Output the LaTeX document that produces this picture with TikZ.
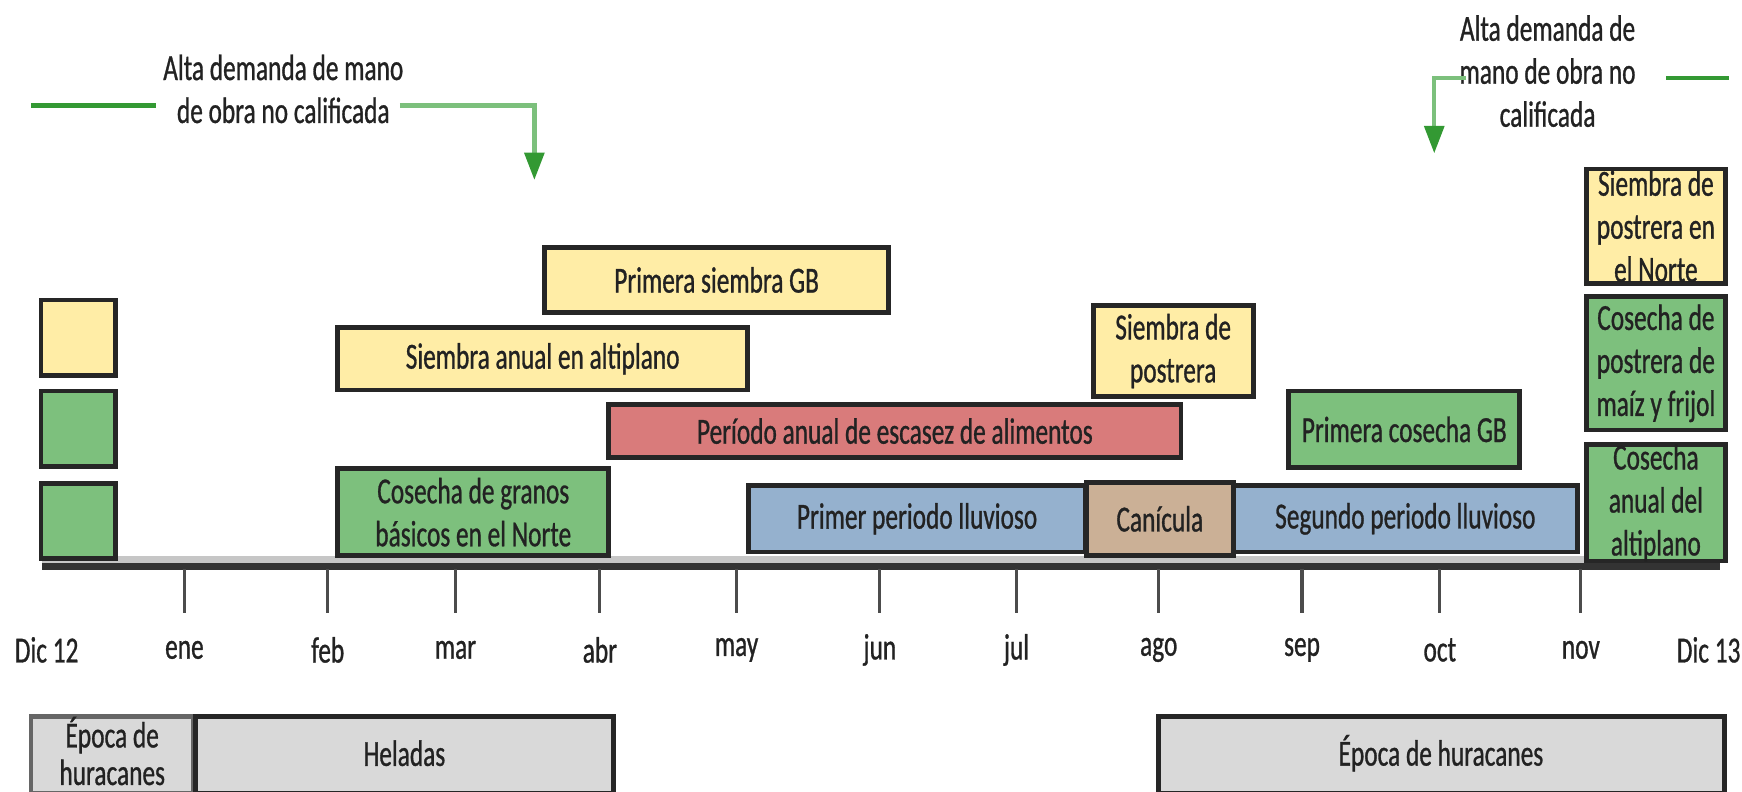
\documentclass[tikz,border=0pt]{standalone}
\usepackage{fontspec}
\setmainfont{Carlito}[FakeStretch=0.69, FakeBold=0.8]
\usetikzlibrary{arrows.meta,fit}
\definecolor{yel}{HTML}{FFEDA6}
\definecolor{grn}{HTML}{7DC07D}
\definecolor{red1}{HTML}{D97B7B}
\definecolor{blu}{HTML}{95B1CE}
\definecolor{tan1}{HTML}{CBB096}
\definecolor{gry}{HTML}{D9D9D9}
\definecolor{dkg}{HTML}{339933}
\definecolor{ltg}{HTML}{7CC07C}
\definecolor{txt}{HTML}{222222}
\tikzset{
  x=0.01cm, y=-0.01cm,
  every node/.style={font=\fontsize{9.4}{11}\selectfont, text=txt},
  box/.style={draw=black!85, line width=1.2pt, inner sep=0pt},
  lab/.style={align=center, inner sep=0pt},
  mon/.style={inner sep=0pt, anchor=center},
  tick/.style={draw=black!70, line width=0.8pt},
  gline/.style={draw=dkg, line width=1.1pt},
  lline/.style={draw=ltg, line width=1.1pt},
}
\begin{document}
\begin{tikzpicture}
\useasboundingbox (0,0) rectangle (1568,712);
% axis
\draw[gray!45, line width=3pt] (38,506) -- (1548,506);
\draw[black!80, line width=1.6pt] (38,510) -- (1548,510);
% ticks and month labels
\foreach \xx/\nm/\lb in {166/ene/ene,295/feb/feb,410/mar/mar,540/abr/abr,663/may/may,792/jun/jun,915/jul/jul,1043/ago/ago,1172/sep/sep,1296/oct/oct,1423/nov/nov}{
  \coordinate (t\nm a) at (\xx,512);
  \coordinate (t\nm b) at (\xx,552);
  \draw[tick] (t\nm a) -- (t\nm b);
  \node[mon] (m\nm) at (\xx,585) {\lb};
}
\node[mon] (mdic12) at (42,585) {Dic 12};
\node[mon] (mdic13) at (1538,585) {Dic 13};
% left squares
\node[box, fill=yel, fit={(37,270) (104,338)}] (sq1) {};
\node[box, fill=grn, fit={(37,352) (104,420)}] (sq2) {};
\node[box, fill=grn, fit={(37,435) (104,503)}] (sq3) {};
% bars
\node[box, fill=yel, fit={(490,223) (800,281)}] (psGB) {};
\node[lab] (psGBt) at (psGB.center) {Primera siembra GB};
\node[box, fill=yel, fit={(304,295) (673,351)}] (saa) {};
\node[lab] (saat) at (saa.center) {Siembra anual en altiplano};
\node[box, fill=grn, fit={(304,422) (548,500)}] (cgb) {};
\node[lab] (cgbt) at (cgb.center) {Cosecha de granos\\básicos en el Norte};
\node[box, fill=red1, fit={(548,364) (1063,412)}] (pae) {};
\node[lab] (paet) at (pae.center) {Período anual de escasez de alimentos};
\node[box, fill=blu, fit={(674,437) (977,497)}] (ppl) {};
\node[lab] (pplt) at (ppl.center) {Primer periodo lluvioso};
\node[box, fill=tan1, fit={(978,434) (1110,500)}] (can) {};
\node[lab] (cant) at (can.center) {Canícula};
\node[box, fill=blu, fit={(1110,437) (1420,497)}] (spl) {};
\node[lab] (splt) at (spl.center) {Segundo periodo lluvioso};
\node[box, fill=yel, fit={(984,275) (1128,357)}] (sdp) {};
\node[lab] (sdpt) at (sdp.center) {Siembra de\\postrera};
\node[box, fill=grn, fit={(1160,352) (1368,421)}] (pcGB) {};
\node[lab] (pcGBt) at (pcGB.center) {Primera cosecha GB};
\node[box, fill=yel, fit={(1428,152) (1553,255)}] (spn) {};
\node[lab] (spnt) at (spn.center) {Siembra de\\postrera en\\el Norte};
\node[box, fill=grn, fit={(1428,267) (1553,387)}] (cpm) {};
\node[lab] (cpmt) at (cpm.center) {Cosecha de\\postrera de\\maíz y frijol};
\node[box, fill=grn, fit={(1428,400) (1553,505)}] (caa) {};
\node[lab] (caat) at (caa.center) {Cosecha\\anual del\\altiplano};
% bottom bars
\node[box, draw=black!60, fill=gry, fit={(28,645) (174,714)}] (eh1) {};
\node[lab, font=\fontsize{9.4}{9.6}\selectfont] (eh1t) at (101,676) {Época de\\huracanes};
\node[box, fill=gry, fit={(176,645) (552,714)}] (hel) {};
\node[lab] (helt) at (364,678) {Heladas};
\node[box, fill=gry, fit={(1043,645) (1552,714)}] (eh2) {};
\node[lab] (eh2t) at (1297,678) {Época de huracanes};
% left annotation
\node[lab] (ann1) at (255,80) {Alta demanda de mano\\de obra no calificada};
\coordinate (a1s) at (28,95);
\coordinate (a1e) at (140,95);
\coordinate (a1r) at (360,95);
\coordinate (a1t) at (481,162);
\draw[gline] (a1s) -- (a1e);
\draw[lline, -{Triangle[length=7pt,width=5pt,fill=dkg,color=dkg]}] (a1r) -| (a1t);
% right annotation
\node[lab] (ann2) at (1393,64) {Alta demanda de\\mano de obra no\\calificada};
\coordinate (a2l) at (1320,70);
\coordinate (a2t) at (1291,138);
\coordinate (a2r) at (1500,70);
\coordinate (a2e) at (1556,70);
\draw[lline, -{Triangle[length=7pt,width=5pt,fill=dkg,color=dkg]}] (a2l) -| (a2t);
\draw[gline] (a2r) -- (a2e);
\end{tikzpicture}
\end{document}
